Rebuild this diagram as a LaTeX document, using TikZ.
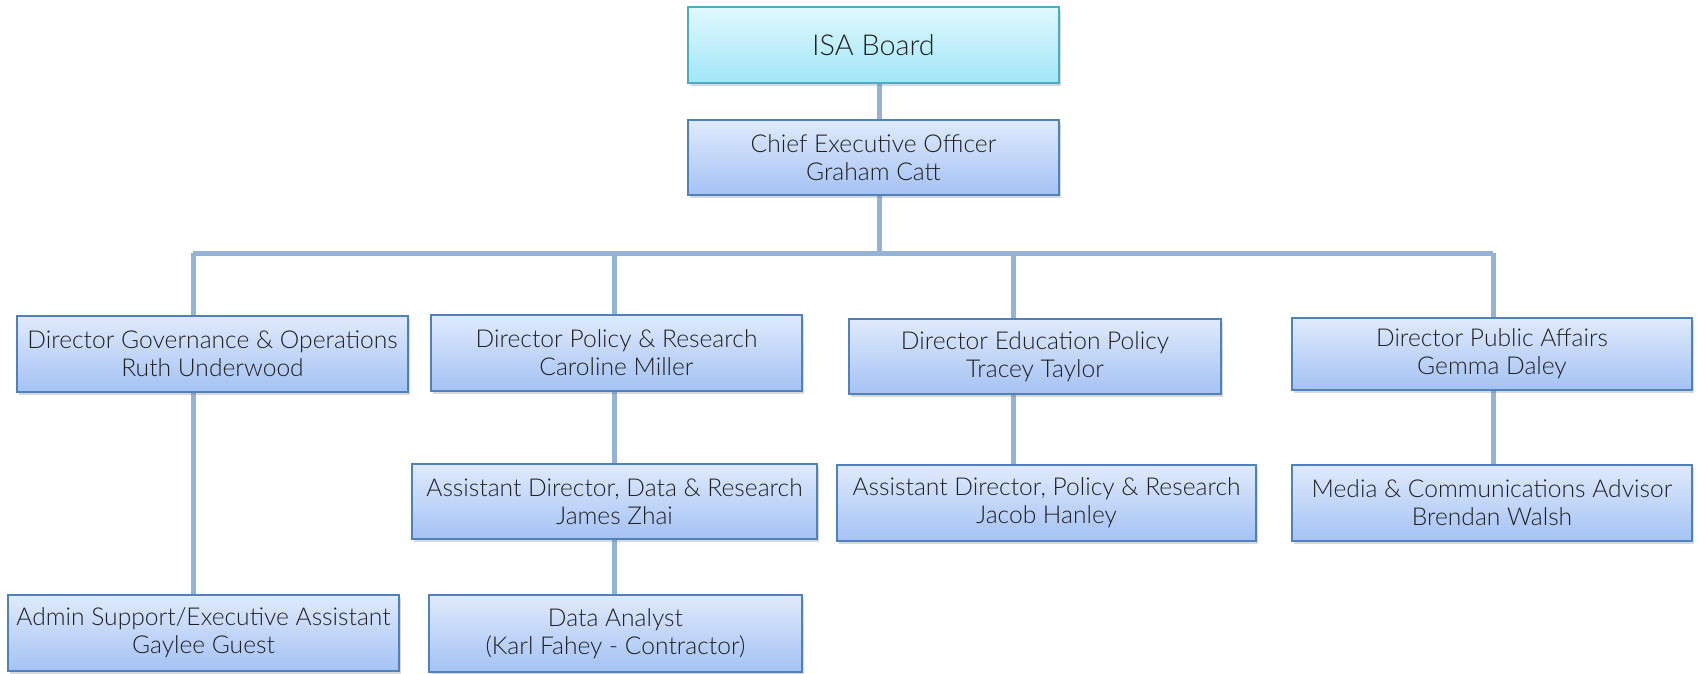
\documentclass[tikz,border=0pt]{standalone}
\usepackage{fontspec}
\setmainfont{Lato Light}
\usetikzlibrary{shadows,backgrounds}
\definecolor{linkblue}{HTML}{95B3D7}
\definecolor{boxedge}{HTML}{4F81BD}
\definecolor{boxtop}{HTML}{E0EAFC}
\definecolor{boxbot}{HTML}{A4C2F4}
\definecolor{topedge}{HTML}{4BACC6}
\definecolor{toptop}{HTML}{E0F8FD}
\definecolor{topbot}{HTML}{A0E6F8}
\definecolor{ink}{HTML}{202020}
\tikzset{
  role/.style={draw=boxedge, line width=1.2pt, top color=boxtop, bottom color=boxbot,
    text=ink, align=center, inner sep=0pt, font=\fontsize{12.3}{14}\selectfont,
    drop shadow={shadow xshift=1.2pt, shadow yshift=-1.5pt, opacity=0.25, fill=black!60}},
  board/.style={role, draw=topedge, top color=toptop, bottom color=topbot,
    font=\fontsize{14.4}{17}\selectfont},
  link/.style={draw=linkblue, line width=2.5pt}
}
\begin{document}
\begin{tikzpicture}[x=0.5pt,y=-0.5pt]
\useasboundingbox (0,0) rectangle (1698,674);
% boxes, sized in pixel units of the layout grid
\node[board, minimum width=185.5pt, minimum height=38pt] (isa) at (873.5,45) {ISA Board};
\node[role, minimum width=185.5pt, minimum height=37.5pt] (ceo) at (873.5,157.5) {Chief Executive Officer\\Graham Catt};
\node[role, minimum width=195.5pt, minimum height=38pt] (gov) at (212.5,354) {Director Governance \& Operations\\Ruth Underwood};
\node[role, minimum width=185.5pt, minimum height=38pt] (pol) at (616.5,353) {Director Policy \& Research\\Caroline Miller};
\node[role, minimum width=186pt, minimum height=37.5pt] (edu) at (1035,356.5) {Director Education Policy\\Tracey Taylor};
\node[role, minimum width=200pt, minimum height=36pt] (pub) at (1492,354) {Director Public Affairs\\Gemma Daley};
\node[role, minimum width=202.5pt, minimum height=37.5pt] (adata) at (614.5,501.5) {Assistant Director, Data \& Research\\James Zhai};
\node[role, minimum width=209.5pt, minimum height=38pt] (apol) at (1046.5,503) {Assistant Director, Policy \& Research\\Jacob Hanley};
\node[role, minimum width=200pt, minimum height=38pt] (media) at (1492,503) {Media \& Communications Advisor\\Brendan Walsh};
\node[role, minimum width=195.5pt, minimum height=38pt] (admin) at (203.5,633) {Admin Support/Executive Assistant\\Gaylee Guest};
\node[role, minimum width=186.5pt, minimum height=38.5pt] (analyst) at (615.5,633.5) {Data Analyst\\(Karl Fahey - Contractor)};
% drop points on the horizontal bus
\coordinate (bc) at (879,253);
\coordinate (b1) at (193,253);
\coordinate (b2) at (614,253);
\coordinate (b3) at (1013,253);
\coordinate (b4) at (1493,253);
\begin{pgfonlayer}{background}
  \draw[link] (isa.south -| bc) -- (ceo.north -| bc);
  \draw[link] (ceo.south -| bc) -- (bc);
  \draw[link] (b1) -- (b4);
  \draw[link] (b1) -- (gov.north -| b1);
  \draw[link] (b2) -- (pol.north -| b2);
  \draw[link] (b3) -- (edu.north -| b3);
  \draw[link] (b4) -- (pub.north -| b4);
  \draw[link] (gov.south -| b1) -- (admin.north -| b1);
  \draw[link] (pol.south -| b2) -- (adata.north -| b2);
  \draw[link] (adata.south -| b2) -- (analyst.north -| b2);
  \draw[link] (edu.south -| b3) -- (apol.north -| b3);
  \draw[link] (pub.south -| b4) -- (media.north -| b4);
\end{pgfonlayer}
\end{tikzpicture}
\end{document}
